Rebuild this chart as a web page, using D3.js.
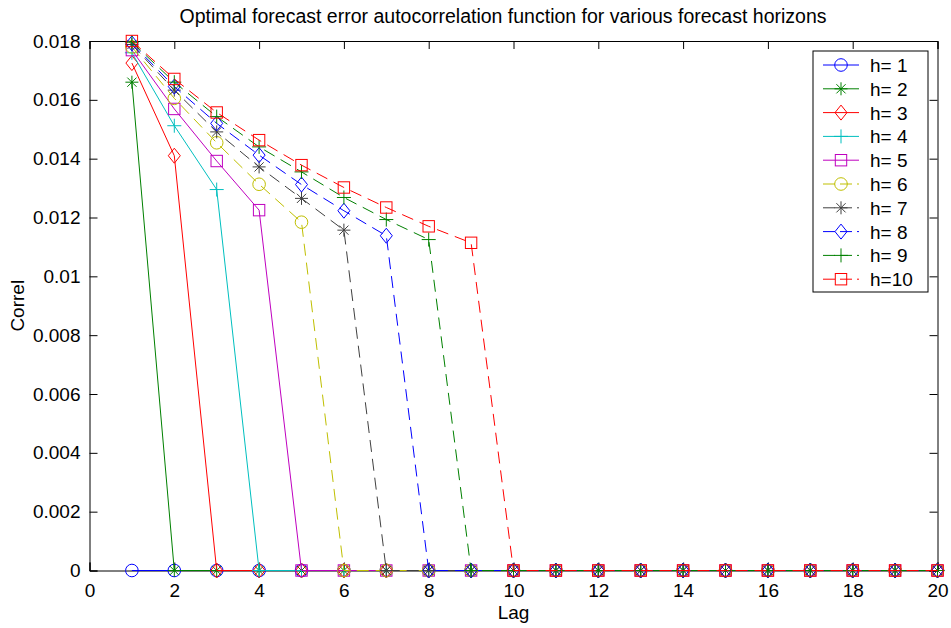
<!DOCTYPE html>
<html>
<head>
<meta charset="utf-8">
<script src="https://cdn.jsdelivr.net/npm/d3@7"></script>
<style>
body { margin: 0; background: #fff; }
text { font-family: "Liberation Sans", Arial, sans-serif; }
</style>
</head>
<body>
<script>
// lags 1..20
var lags = d3.range(1, 21);

// nonzero part of each autocorrelation, the rest is zero
var acf1 = [];
var acf2 = [0.0166];
var acf3 = [0.01725, 0.0141];
var acf4 = [0.0176, 0.01512, 0.01295];
var acf5 = [0.01769, 0.01569, 0.01392, 0.01225];
var acf6 = [0.0178, 0.01605, 0.01454, 0.01313, 0.01184];
var acf7 = [0.01788, 0.01633, 0.01491, 0.01372, 0.01265, 0.01157];
var acf8 = [0.01792, 0.01645, 0.0152, 0.01412, 0.01312, 0.01223, 0.01138];
var acf9 = [0.01796, 0.0166, 0.01543, 0.0144, 0.01355, 0.01268, 0.01193, 0.01125];
var acf10 = [0.018, 0.01671, 0.01557, 0.01463, 0.01378, 0.01302, 0.01234, 0.0117, 0.01114];

var names = ["h= 1", "h= 2", "h= 3", "h= 4", "h= 5", "h= 6", "h= 7", "h= 8", "h= 9", "h=10"];
var colors = ["#0000ff", "#008000", "#ff0000", "#00bfbf", "#bf00bf", "#bfbf00", "#404040", "#0000ff", "#008000", "#ff0000"];
var markers = ["o", "*", "d", "+", "s", "o", "*", "d", "+", "s"];
var xTicks = d3.range(0, 21, 2);
var yTicks = [0, 0.002, 0.004, 0.006, 0.008, 0.01, 0.012, 0.014, 0.016, 0.018];

var allAcf = [acf1, acf2, acf3, acf4, acf5, acf6, acf7, acf8, acf9, acf10];
var series = allAcf.map(function(a, i) {
    return {
        name: names[i], color: colors[i], marker: markers[i], dashed: i >= 5,
        values: lags.map(function(l) { return {lag: l, v: l <= a.length ? a[l - 1] : 0}; })
    };
});

//Define Margin
var margin = {left: 89.5, right: 13.5, top: 41, bottom: 57.5},
    W = 951, H = 628,
    width = W - margin.left - margin.right,
    height = H - margin.top - margin.bottom;

var svg = d3.select("body").append("svg")
    .attr("width", W)
    .attr("height", H);

var g = svg.append("g")
    .attr("transform", "translate(" + margin.left + "," + margin.top + ")");

var x = d3.scaleLinear().domain([0, 20]).range([0, width]);
var y = d3.scaleLinear().domain([0, 0.018]).range([height, 0]);

// axes, ticks inward on all four sides; drop trailing zeros like matlab
var fmtY = function(d) { return String(+d.toFixed(3)); };
g.append("g").attr("transform", "translate(0," + height + ")")
    .call(d3.axisBottom(x).tickValues(xTicks).tickSize(-8).tickPadding(13).tickFormat(d3.format("d")));
g.append("g").call(d3.axisTop(x).tickValues(xTicks).tickSize(-8).tickFormat(""));
g.append("g").call(d3.axisLeft(y).tickValues(yTicks).tickSize(-8).tickPadding(9).tickFormat(fmtY));
g.append("g").attr("transform", "translate(" + width + ",0)")
    .call(d3.axisRight(y).tickValues(yTicks).tickSize(-8).tickFormat(""));
g.selectAll(".domain, .tick line").attr("stroke", "#000");
g.selectAll(".tick text").attr("font-size", 19).attr("fill", "#000")
    .attr("font-family", "Liberation Sans, Arial, sans-serif");

// marker drawing
function drawMarker(sel, type, color) {
    if (type === "o") {
        sel.append("circle").attr("r", 6.3);
    } else if (type === "s") {
        sel.append("rect").attr("x", -5.7).attr("y", -5.7).attr("width", 11.4).attr("height", 11.4);
    } else if (type === "d") {
        sel.append("path").attr("d", "M0,-7.5L6,0L0,7.5L-6,0Z");
    } else if (type === "+") {
        sel.append("path").attr("d", "M-7,0H7M0,-7V7");
    } else if (type === "*") {
        sel.append("path").attr("d", "M-6.5,0H6.5M0,-6.5V6.5M-4.6,-4.6L4.6,4.6M-4.6,4.6L4.6,-4.6");
    }
    sel.selectAll("circle, rect, path").attr("fill", "none").attr("stroke", color).attr("stroke-width", 1);
}

var line = d3.line().x(function(d) { return x(d.lag); }).y(function(d) { return y(d.v); });

var plot = g.append("g");
series.forEach(function(s) {
    plot.append("path")
        .datum(s.values)
        .attr("d", line)
        .attr("fill", "none")
        .attr("stroke", s.color)
        .attr("stroke-width", 1)
        .attr("stroke-dasharray", s.dashed ? "12,7" : null);
    plot.selectAll(null)
        .data(s.values)
        .enter().append("g")
        .attr("transform", function(d) { return "translate(" + x(d.lag) + "," + y(d.v) + ")"; })
        .each(function() { drawMarker(d3.select(this), s.marker, s.color); });
});

//legend
var lg = svg.append("g").attr("transform", "translate(813,51)");
lg.append("rect").attr("width", 115).attr("height", 241)
    .attr("fill", "#fff").attr("stroke", "#000").attr("stroke-width", 1);
var item = lg.selectAll(".legend")
    .data(series)
    .enter().append("g")
    .attr("class", "legend")
    .attr("transform", function(d, i) { return "translate(0," + (14 + i * 23.8) + ")"; });
item.append("line")
    .attr("x1", 10).attr("x2", 46)
    .attr("stroke", function(d) { return d.color; })
    .attr("stroke-dasharray", function(d) { return d.dashed ? "12,5" : null; });
item.each(function(d) {
    var m = d3.select(this).append("g").attr("transform", "translate(28,0)");
    drawMarker(m, d.marker, d.color);
});
item.append("text")
    .attr("x", 57).attr("y", 7)
    .attr("font-size", 19)
    .text(function(d) { return d.name; });

// title and labels
svg.append("text")
    .attr("x", 503).attr("y", 23)
    .attr("text-anchor", "middle")
    .attr("font-size", 19.5)
    .text("Optimal forecast error autocorrelation function for various forecast horizons");
svg.append("text")
    .attr("x", margin.left + width / 2).attr("y", 619)
    .attr("text-anchor", "middle")
    .attr("font-size", 19)
    .text("Lag");
svg.append("text")
    .attr("transform", "translate(24," + (margin.top + height / 2) + ") rotate(-90)")
    .attr("text-anchor", "middle")
    .attr("font-size", 19)
    .text("Correl");
</script>
</body>
</html>
